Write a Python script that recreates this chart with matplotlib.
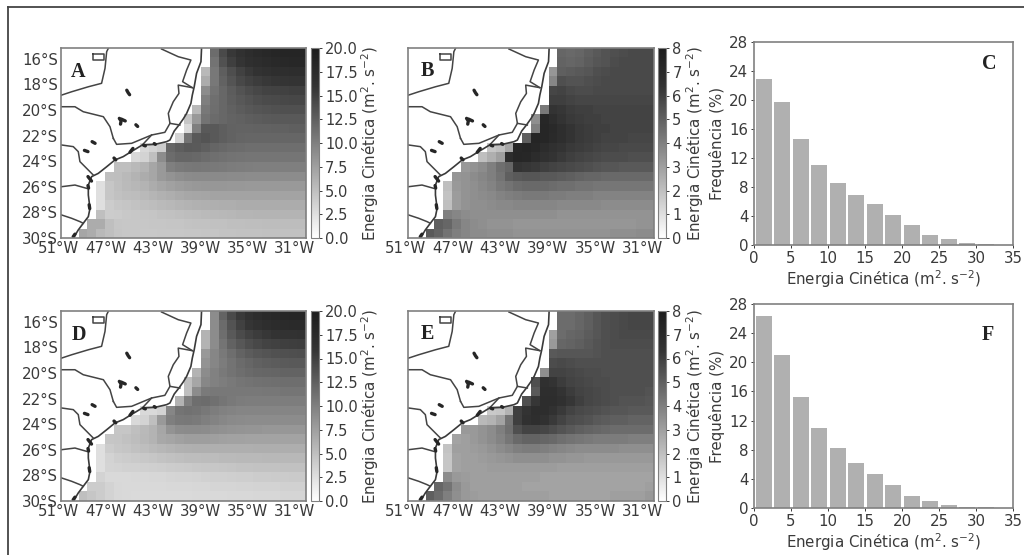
import numpy as np
import matplotlib
matplotlib.use("Agg")
import matplotlib.pyplot as plt
from matplotlib.colors import LinearSegmentedColormap
from matplotlib.lines import Line2D
from matplotlib.transforms import ScaledTranslation

# energia cinetica, linha por linha de norte a sul; so os pontos de oceano
# (cada linha termina na borda leste, o que falta a oeste e continente)
ek_a = [
    [11.5, 14.2, 15.6, 16.4, 17, 17.5, 17.9, 18.2, 18.4, 18.5, 18.5],
    [11, 13.6, 15, 15.9, 16.6, 17, 17.4, 17.7, 17.9, 18, 18],
    [5.5, 10.6, 12.6, 13.9, 14.9, 15.6, 16.1, 16.5, 16.8, 16.9, 17, 17],
    [6.5, 10.6, 12.3, 13.4, 14.3, 14.9, 15.3, 15.6, 15.8, 15.9, 16, 16],
    [9, 11, 11.9, 12.8, 13.5, 14, 14.4, 14.7, 14.8, 14.9, 15, 15],
    [10, 11.3, 11.9, 12.6, 13.1, 13.5, 13.9, 14.1, 14.2, 14.3, 14.4, 14.4],
    [5.5, 10.6, 11.4, 11.9, 12.4, 12.8, 13.1, 13.3, 13.5, 13.6, 13.7, 13.7, 13.7],
    [4.5, 8, 11, 11.6, 11.9, 12.2, 12.4, 12.6, 12.8, 12.9, 13, 13, 13, 13],
    [3, 10, 13, 13, 12.6, 12.3, 12.2, 12.2, 12.3, 12.3, 12.4, 12.4, 12.5, 12.5],
    [3.5, 11, 13, 13.4, 13, 12.6, 12.3, 12.1, 12, 12, 12, 12, 12, 12, 12],
    [3, 3.5, 4, 12, 12.6, 13, 12.9, 12.5, 12.1, 11.8, 11.6, 11.5, 11.4, 11.4, 11.4, 11.4, 11.4, 11.4, 11.4],
    [3, 3.5, 5, 9, 11.5, 12, 12, 11.8, 11.5, 11.3, 11.1, 11, 10.9, 10.8, 10.8, 10.8, 10.8, 10.8, 10.8, 10.8],
    [5, 5, 5.5, 6, 7, 8, 10, 10.4, 10.6, 10.7, 10.6, 10.5, 10.4, 10.3, 10.2, 10.1, 10, 10, 10, 10, 10, 10],
    [5, 5.1, 5.5, 6, 6.5, 7, 8, 8.5, 8.9, 9.1, 9.2, 9.2, 9.2, 9.2, 9.1, 9.1, 9, 9, 9, 9, 9, 9, 9],
    [2.5, 4.5, 5, 5.4, 5.7, 6, 6.5, 7, 7.4, 7.7, 7.9, 8.1, 8.2, 8.2, 8.2, 8.1, 8.1, 8, 8, 8, 8, 8, 8, 8],
    [2.5, 4.5, 4.9, 5.1, 5.2, 5.5, 5.8, 6.1, 6.4, 6.7, 6.9, 7, 7.1, 7.2, 7.2, 7.2, 7.2, 7.2, 7.2, 7.2, 7.2, 7.2, 7.2, 7.2],
    [2.5, 4, 4.4, 4.6, 4.8, 5, 5.2, 5.4, 5.6, 5.8, 6, 6.1, 6.2, 6.3, 6.4, 6.4, 6.5, 6.5, 6.5, 6.5, 6.5, 6.5, 6.5, 6.5],
    [5, 4, 4.1, 4.3, 4.4, 4.5, 4.6, 4.8, 4.9, 5, 5.2, 5.3, 5.4, 5.5, 5.6, 5.7, 5.8, 5.8, 5.9, 5.9, 5.9, 5.9, 5.9, 5.9],
    [6.5, 6.5, 5, 4.5, 4.4, 4.4, 4.4, 4.5, 4.5, 4.6, 4.6, 4.7, 4.8, 4.8, 4.9, 4.9, 5, 5, 5.1, 5.1, 5.2, 5.2, 5.2, 5.2, 5.2],
    [7, 6.5, 5.5, 5, 4.6, 4.4, 4.4, 4.3, 4.3, 4.4, 4.4, 4.4, 4.5, 4.5, 4.6, 4.6, 4.7, 4.7, 4.8, 4.8, 4.8, 4.9, 4.9, 4.9, 4.9, 4.9],
]

ek_b = [
    [4.8, 4.7, 4.8, 5, 5.2, 5.4, 5.5, 5.6, 5.7, 5.7, 5.7],
    [4.9, 4.8, 4.9, 5.1, 5.3, 5.4, 5.6, 5.7, 5.7, 5.7, 5.7],
    [3.3, 5, 5.1, 5.2, 5.3, 5.5, 5.6, 5.7, 5.7, 5.7, 5.7, 5.7],
    [3.8, 5.5, 5.4, 5.4, 5.5, 5.6, 5.7, 5.7, 5.7, 5.7, 5.7, 5.7],
    [5.8, 5.9, 5.7, 5.6, 5.6, 5.7, 5.7, 5.7, 5.7, 5.7, 5.7, 5.7],
    [6, 6, 5.9, 5.8, 5.8, 5.8, 5.8, 5.8, 5.8, 5.8, 5.8, 5.8],
    [4.2, 6.4, 6.3, 6.1, 6, 6, 5.9, 5.9, 5.9, 5.9, 5.9, 5.9, 5.9],
    [3.5, 7.2, 6.8, 6.4, 6.2, 6.1, 6, 6, 5.9, 5.9, 5.9, 5.9, 5.9, 5.9],
    [4, 7.3, 7.1, 6.7, 6.4, 6.2, 6.1, 6, 6, 5.9, 5.9, 5.9, 5.9, 5.9],
    [5, 7.4, 7.3, 7, 6.7, 6.4, 6.2, 6.1, 6, 5.9, 5.9, 5.9, 5.8, 5.8, 5.8],
    [1.8, 2, 2.8, 7.2, 7.4, 7.2, 6.9, 6.6, 6.4, 6.2, 6.1, 6, 5.9, 5.8, 5.8, 5.7, 5.7, 5.7, 5.7],
    [2, 2.5, 3, 6.8, 7.3, 7.2, 6.9, 6.6, 6.4, 6.2, 6, 5.9, 5.8, 5.7, 5.6, 5.6, 5.6, 5.5, 5.5, 5.5],
    [3.2, 3.4, 3.6, 4, 4.5, 4.8, 6.4, 6.3, 6.2, 6, 5.9, 5.8, 5.7, 5.6, 5.5, 5.4, 5.3, 5.3, 5.2, 5.2, 5.2, 5.2],
    [3.3, 3.4, 3.6, 3.8, 4, 4.4, 5, 5.2, 5.3, 5.3, 5.2, 5.2, 5.1, 5, 4.9, 4.8, 4.8, 4.7, 4.7, 4.7, 4.7, 4.7, 4.7],
    [2, 3.2, 3.4, 3.5, 3.7, 3.9, 4.2, 4.4, 4.6, 4.7, 4.7, 4.7, 4.6, 4.5, 4.5, 4.4, 4.4, 4.3, 4.3, 4.3, 4.3, 4.3, 4.3, 4.3],
    [1.9, 3.1, 3.4, 3.5, 3.6, 3.7, 3.9, 4, 4.1, 4.2, 4.2, 4.2, 4.1, 4.1, 4, 4, 4, 3.9, 3.9, 3.9, 3.9, 3.9, 3.9, 3.9],
    [2, 3.1, 3.4, 3.5, 3.5, 3.6, 3.7, 3.7, 3.8, 3.8, 3.8, 3.8, 3.8, 3.7, 3.7, 3.7, 3.7, 3.7, 3.6, 3.6, 3.6, 3.6, 3.6, 3.6],
    [4, 3.8, 3.6, 3.5, 3.5, 3.5, 3.5, 3.5, 3.5, 3.5, 3.5, 3.5, 3.5, 3.4, 3.4, 3.4, 3.4, 3.4, 3.4, 3.4, 3.4, 3.4, 3.4, 3.4],
    [5, 4.8, 4.2, 3.8, 3.6, 3.5, 3.4, 3.4, 3.4, 3.3, 3.3, 3.3, 3.3, 3.3, 3.3, 3.3, 3.3, 3.3, 3.3, 3.3, 3.3, 3.3, 3.3, 3.4, 3.4],
    [5.2, 4.9, 4.4, 4, 3.8, 3.6, 3.6, 3.5, 3.5, 3.5, 3.4, 3.4, 3.4, 3.4, 3.4, 3.4, 3.4, 3.4, 3.4, 3.4, 3.4, 3.5, 3.5, 3.5, 3.6, 3.6],
]

ek_d = [
    [9, 12.2, 14.2, 15.5, 16.4, 17, 17.5, 17.9, 18.2, 18.3, 18.4],
    [9, 11.6, 13.5, 14.9, 15.8, 16.4, 16.9, 17.2, 17.4, 17.5, 17.6],
    [6, 9, 11.4, 13, 14.1, 14.8, 15.3, 15.7, 16, 16.1, 16.2, 16.3],
    [6, 9, 10.9, 12.3, 13.2, 13.9, 14.3, 14.7, 14.9, 15, 15.1, 15.2],
    [8, 9.5, 10.5, 11.4, 12.2, 12.8, 13.2, 13.4, 13.6, 13.7, 13.8, 13.9],
    [8.5, 9.5, 10.3, 11, 11.6, 12, 12.4, 12.6, 12.8, 12.9, 13, 13],
    [6, 9, 9.9, 10.5, 11, 11.4, 11.7, 11.9, 12, 12.1, 12.2, 12.2, 12.2],
    [5, 7, 9.4, 9.9, 10.2, 10.5, 10.8, 11, 11.1, 11.2, 11.3, 11.4, 11.4, 11.4],
    [5, 9, 10.4, 10.6, 10.6, 10.6, 10.6, 10.6, 10.6, 10.7, 10.7, 10.8, 10.8, 10.8],
    [6, 10, 11.4, 11.5, 11.2, 10.8, 10.5, 10.3, 10.2, 10.2, 10.2, 10.2, 10.2, 10.2, 10.2],
    [3, 3, 3.5, 9.5, 10.9, 11.1, 11, 10.6, 10.2, 9.9, 9.7, 9.6, 9.6, 9.6, 9.6, 9.6, 9.6, 9.6, 9.6],
    [3, 3.5, 5, 8, 10, 10.5, 10.6, 10.4, 10, 9.7, 9.4, 9.2, 9.1, 9, 9, 9, 9, 9, 9, 9],
    [4.5, 4.5, 5, 5.5, 6, 7, 8.5, 9, 9.1, 9.1, 9, 8.8, 8.6, 8.5, 8.4, 8.3, 8.3, 8.2, 8.2, 8.2, 8.2, 8.2],
    [4.5, 4.6, 4.9, 5.2, 5.6, 6, 6.8, 7.1, 7.4, 7.6, 7.6, 7.6, 7.5, 7.4, 7.3, 7.3, 7.2, 7.2, 7.2, 7.2, 7.2, 7.2, 7.2],
    [2.5, 4, 4.4, 4.6, 4.9, 5.1, 5.4, 5.7, 5.9, 6.1, 6.2, 6.3, 6.3, 6.3, 6.3, 6.3, 6.3, 6.3, 6.4, 6.4, 6.4, 6.4, 6.4, 6.4],
    [2.5, 3.5, 3.9, 4, 4.2, 4.3, 4.5, 4.7, 4.9, 5, 5.2, 5.2, 5.3, 5.3, 5.4, 5.4, 5.5, 5.5, 5.5, 5.6, 5.6, 5.6, 5.6, 5.6],
    [2.5, 3.4, 3.5, 3.6, 3.6, 3.7, 3.8, 3.9, 4, 4.1, 4.2, 4.3, 4.4, 4.4, 4.5, 4.6, 4.7, 4.7, 4.8, 4.8, 4.8, 4.9, 4.9, 4.9],
    [3.5, 3, 3, 3, 3.1, 3.1, 3.2, 3.2, 3.3, 3.4, 3.4, 3.5, 3.6, 3.7, 3.7, 3.8, 3.9, 3.9, 4, 4, 4.1, 4.1, 4.2, 4.2],
    [4, 4, 3.5, 3.1, 3, 3, 3, 3, 3, 3.1, 3.1, 3.1, 3.2, 3.2, 3.3, 3.3, 3.3, 3.4, 3.4, 3.5, 3.5, 3.5, 3.6, 3.6, 3.6],
    [5, 4.5, 4, 3.5, 3.1, 3, 2.9, 2.9, 2.9, 2.9, 2.9, 2.9, 2.9, 3, 3, 3, 3, 3.1, 3.1, 3.1, 3.2, 3.2, 3.2, 3.3, 3.3, 3.3],
]

ek_e = [
    [4.6, 4.6, 4.8, 5, 5.3, 5.5, 5.6, 5.7, 5.8, 5.8, 5.8],
    [4.6, 4.6, 4.8, 5, 5.3, 5.5, 5.6, 5.7, 5.8, 5.8, 5.8],
    [3, 4.6, 4.8, 4.9, 5.1, 5.3, 5.5, 5.6, 5.7, 5.7, 5.7, 5.7],
    [3.2, 4.8, 4.9, 5, 5.2, 5.4, 5.5, 5.6, 5.6, 5.6, 5.6, 5.6],
    [5.2, 5.3, 5.3, 5.3, 5.3, 5.4, 5.5, 5.5, 5.5, 5.5, 5.5, 5.5],
    [5.6, 5.7, 5.6, 5.5, 5.5, 5.5, 5.5, 5.5, 5.5, 5.5, 5.5, 5.5],
    [3.5, 5.9, 5.9, 5.8, 5.7, 5.6, 5.6, 5.5, 5.5, 5.5, 5.5, 5.5, 5.5],
    [5.5, 6.6, 6.4, 6.1, 5.9, 5.8, 5.7, 5.6, 5.6, 5.5, 5.5, 5.5, 5.5, 5.5],
    [5.2, 6.7, 6.7, 6.4, 6.1, 5.9, 5.8, 5.7, 5.6, 5.5, 5.5, 5.5, 5.5, 5.4],
    [5.5, 6.3, 6.8, 6.8, 6.6, 6.3, 6, 5.8, 5.7, 5.6, 5.5, 5.4, 5.4, 5.4, 5.3],
    [1.7, 1.8, 2.4, 6, 6.4, 6.8, 6.8, 6.5, 6.2, 5.9, 5.7, 5.6, 5.5, 5.4, 5.3, 5.3, 5.2, 5.2, 5.2],
    [2.2, 2.4, 2.9, 4.4, 6, 6.5, 6.7, 6.5, 6.2, 5.9, 5.6, 5.5, 5.4, 5.2, 5.1, 5, 5, 4.9, 4.9, 4.9],
    [3.2, 3.2, 3.4, 3.6, 4, 4.5, 5.5, 5.9, 5.9, 5.8, 5.6, 5.4, 5.2, 5, 4.9, 4.8, 4.7, 4.6, 4.6, 4.6, 4.6, 4.6],
    [2.9, 3, 3.2, 3.4, 3.6, 3.9, 4.3, 4.7, 4.9, 4.9, 4.8, 4.7, 4.5, 4.4, 4.3, 4.2, 4.1, 4.1, 4.1, 4.1, 4, 4, 4],
    [1.9, 3, 3, 3.1, 3.2, 3.4, 3.6, 3.8, 4, 4.1, 4.1, 4, 3.9, 3.8, 3.7, 3.6, 3.6, 3.6, 3.6, 3.6, 3.5, 3.5, 3.5, 3.5],
    [1.8, 2.9, 3, 3, 3.1, 3.2, 3.3, 3.4, 3.5, 3.5, 3.5, 3.5, 3.4, 3.4, 3.3, 3.3, 3.2, 3.2, 3.2, 3.2, 3.2, 3.2, 3.2, 3.2],
    [1.8, 2.9, 3, 3, 3, 3.1, 3.1, 3.1, 3.1, 3.1, 3.1, 3.1, 3.1, 3, 3, 3, 3, 3, 3, 3, 3, 3, 3, 3],
    [3.6, 3.2, 3.1, 3, 3, 3, 3, 3, 3, 3, 3, 2.9, 2.9, 2.9, 2.9, 2.9, 2.9, 2.9, 2.9, 2.9, 2.9, 2.9, 2.9, 2.9],
    [4.8, 4.4, 3.6, 3.2, 3, 3, 3, 3, 3, 3, 2.9, 2.9, 2.9, 2.9, 2.9, 2.9, 2.9, 2.9, 2.9, 2.9, 2.9, 2.9, 2.9, 2.9, 3],
    [5, 4.6, 4, 3.5, 3.2, 3.1, 3, 3, 3, 3, 3, 3, 3, 3, 2.9, 2.9, 2.9, 2.9, 2.9, 2.9, 2.9, 3, 3, 3, 3, 3.2],
]

# histogramas
freq_c = [22.9, 19.7, 14.6, 11.1, 8.5, 6.9, 5.7, 4.2, 2.7, 1.4, 0.8, 0.3, 0.1, 0.05]
freq_f = [26.3, 21.0, 15.2, 11.0, 8.3, 6.2, 4.7, 3.2, 1.7, 0.9, 0.45, 0.2, 0.1, 0.03]
bin_start = [0, 2.5, 5, 7.5, 10, 12.5, 15, 17.5, 20, 22.5, 25, 27.5, 30, 32.5]

lon_ticks = [-51, -47, -43, -39, -35, -31]
lon_labels = ["51°W", "47°W", "43°W", "39°W", "35°W", "31°W"]
lat_ticks = [-16, -18, -20, -22, -24, -26, -28, -30]
lat_labels = ["16°S", "18°S", "20°S", "22°S", "24°S", "26°S", "28°S", "30°S"]

# contornos do mapa (lon, lat)
coast = (
    [-38.90, -38.95, -39.32, -39.52, -39.68, -39.80, -40.16, -40.45, -40.81, -41.21, -41.57, -41.85,
     -42.84, -43.91, -44.39, -44.95, -45.52, -46.22, -46.92, -47.63, -48.19, -48.47, -48.47, -48.33,
     -48.47, -48.90, -49.32, -49.74, -50.02],
    [-15.18, -16.22, -17.13, -18.18, -18.83, -19.48, -20.26, -20.70, -21.17, -21.64, -22.34, -22.47,
     -22.68, -22.73, -23.00, -23.31, -23.64, -23.90, -24.43, -24.95, -25.20, -25.86, -26.64, -27.68,
     -28.33, -28.85, -29.37, -30.02, -30.67],
)
borders = [
    ([-42.28, -40.87, -39.80, -40.16, -40.50, -39.68],
     [-15.23, -15.83, -16.09, -16.87, -17.78, -18.25]),
    ([-39.68, -40.87, -40.81, -41.29, -41.71, -41.57, -40.73],
     [-18.25, -18.05, -18.70, -19.35, -20.26, -21.04, -21.17]),
    ([-41.57, -42.00, -43.12, -44.81, -46.08, -46.36],
     [-21.04, -21.74, -21.95, -22.60, -22.68, -22.21]),
    ([-50.73, -49.60, -48.90, -47.20, -46.64, -46.36],
     [-19.74, -19.74, -20.13, -20.52, -21.30, -22.21]),
    ([-50.73, -49.88, -48.47, -47.35, -47.06, -46.92, -46.78],
     [-18.83, -18.57, -18.18, -17.91, -16.74, -15.44, -15.18]),
    ([-48.11, -47.15, -47.15, -48.11, -48.11],
     [-15.65, -15.65, -16.09, -16.09, -15.65]),
    ([-50.73, -49.74, -49.32, -49.18, -48.47, -48.05],
     [-22.73, -22.86, -23.25, -24.03, -24.69, -25.08]),
    ([-50.73, -49.60, -48.61],
     [-25.99, -25.86, -26.12]),
    ([-50.73, -49.88, -49.18, -48.90],
     [-28.20, -28.46, -28.72, -28.85]),
    ([-43.12, -43.91], [-21.95, -22.73]),
]
lakes = [
    ([-45.22, -45.10, -44.98], [-18.45, -18.65, -18.80]),
    ([-45.85, -45.70, -45.75], [-20.65, -20.85, -21.10]),
    ([-45.70, -45.35], [-20.70, -20.85]),
    ([-44.45, -44.30], [-21.15, -21.28]),
    ([-48.15, -47.90], [-22.47, -22.60]),
    ([-48.80, -48.50], [-23.15, -23.25]),
    ([-44.70, -44.95], [-23.00, -23.30]),
    ([-43.80, -43.65], [-22.75, -22.80]),
    ([-42.90, -42.80], [-22.62, -22.68]),
    ([-46.30, -46.15], [-23.75, -23.90]),
    ([-48.50, -48.20], [-25.20, -25.55]),
    ([-48.50, -48.45], [-25.90, -26.10]),
    ([-48.40, -48.35], [-27.40, -27.70]),
    ([-49.75, -49.60], [-29.90, -29.70]),
]
letters = ["A", "B", "C", "D", "E", "F"]

TEXT = "#3a3a3a"
SPINE = "#808080"
W, H = 1024, 555
lon_edges = np.linspace(-50.78, -30.07, 29)
lat_edges = np.linspace(-15.15, -30.0, 21)
# preto levantado, como na digitalizacao do original
cinza = LinearSegmentedColormap.from_list("cinza", [(0, "#ffffff"), (0.8, "#333333"), (1, "#1c1c1c")])

plt.rcParams["font.family"] = "DejaVu Sans"
plt.rcParams["text.color"] = TEXT
plt.rcParams["axes.labelcolor"] = TEXT
plt.rcParams["xtick.color"] = TEXT
plt.rcParams["ytick.color"] = TEXT

fig = plt.figure(figsize=(W / 100, H / 100), dpi=100)


def caixa(x0, y0, x1, y1):
    # caixa em pixels da imagem, origem no canto superior esquerdo
    return fig.add_axes([x0 / W, 1 - y1 / H, (x1 - x0) / W, (y1 - y0) / H])


def monta_grade(linhas):
    grade = np.full((20, 28), np.nan)
    for i, linha in enumerate(linhas):
        grade[i, 28 - len(linha):] = linha
    return grade


def painel_mapa(box, cbox, linhas, vmax, cticks, cfmt, labelpad, com_lat=True):
    ax = caixa(*box)
    m = ax.pcolormesh(lon_edges, lat_edges, monta_grade(linhas), cmap=cinza, vmin=0, vmax=vmax)
    ax.plot(coast[0], coast[1], color="#3a3a3a", lw=1.2)
    for bx, by in borders:
        ax.plot(bx, by, color="#444444", lw=1.1)
    for bx, by in lakes:
        ax.plot(bx, by, color="#262626", lw=2.4, solid_capstyle="round")
    ax.set_xlim(lon_edges[0], lon_edges[-1])
    ax.set_ylim(lat_edges[-1], lat_edges[0])
    # 51W fica um pouco fora da caixa no original
    ax.set_xticks([lon_edges[0]] + lon_ticks[1:])
    ax.set_xticklabels(lon_labels, fontsize=10.8)
    if com_lat:
        ax.set_yticks(lat_ticks)
        ax.set_yticklabels(lat_labels, fontsize=10.8)
    else:
        ax.set_yticks([])
    ax.tick_params(length=0, pad=2)
    lab = ax.get_xticklabels()[0]
    lab.set_transform(lab.get_transform() + ScaledTranslation(-3 / 100, 0, fig.dpi_scale_trans))
    for s in ax.spines.values():
        s.set_color(SPINE)
        s.set_linewidth(1.2)
    cax = caixa(*cbox)
    cb = fig.colorbar(m, cax=cax)
    cb.set_ticks(cticks)
    cb.set_ticklabels([cfmt % t for t in cticks])
    cb.ax.tick_params(labelsize=10.5, length=2.5, width=0.7, pad=2)
    cb.outline.set_edgecolor(SPINE)
    cb.set_label(r"Energia Cinética (m$^2$. s$^{-2}$)", fontsize=10.8, labelpad=labelpad)
    return ax


def painel_hist(box, freq):
    ax = caixa(*box)
    ax.bar(np.array(bin_start) + 1.33, freq, width=2.2, color="#b0b0b0")
    ax.set_xlim(0, 35)
    ax.set_ylim(0, 28)
    ax.set_xticks(range(0, 36, 5))
    ax.set_yticks(range(0, 29, 4))
    ax.tick_params(labelsize=10.8, length=2.5, width=0.7, pad=1.5)
    ax.set_xlabel(r"Energia Cinética (m$^2$. s$^{-2}$)", fontsize=10.8, labelpad=2)
    ax.set_ylabel("Frequência (%)", fontsize=10.8, labelpad=3)
    for s in ax.spines.values():
        s.set_color(SPINE)
        s.set_linewidth(1.2)
    return ax


ticks_20 = [0, 2.5, 5, 7.5, 10, 12.5, 15, 17.5, 20]
ticks_8 = [0, 1, 2, 3, 4, 5, 6, 7, 8]

painel_mapa((61, 48, 306, 238), (311, 48, 319, 238), ek_a, 20, ticks_20, "%.1f", 1)
painel_mapa((408, 48, 654, 238), (658, 48, 666, 238), ek_b, 8, ticks_8, "%d", 2, com_lat=False)
painel_hist((754, 42, 1013, 245), freq_c)
painel_mapa((61, 311, 306, 501), (311, 311, 319, 501), ek_d, 20, ticks_20, "%.1f", 1)
painel_mapa((408, 311, 654, 501), (658, 311, 666, 501), ek_e, 8, ticks_8, "%d", 2, com_lat=False)
painel_hist((754, 304, 1013, 508), freq_f)

# letras dos paineis
letter_pos = [(78, 72), (427, 71), (989, 64), (79, 335), (427, 334), (988, 335)]
for s, (px, py) in zip(letters, letter_pos):
    fig.text(px / W, 1 - py / H, s, family="Liberation Serif", weight="bold", fontsize=14.5,
             color="#222222", ha="center", va="center", zorder=10)

# moldura da pagina, so em cima e a esquerda
fig.add_artist(Line2D([7.5 / W, 7.5 / W], [0, 1 - 6.5 / H], color="#444444", lw=1.3))
fig.add_artist(Line2D([7.5 / W, 1], [1 - 6.5 / H, 1 - 6.5 / H], color="#444444", lw=1.3))

fig.savefig("out.png", dpi=100)
